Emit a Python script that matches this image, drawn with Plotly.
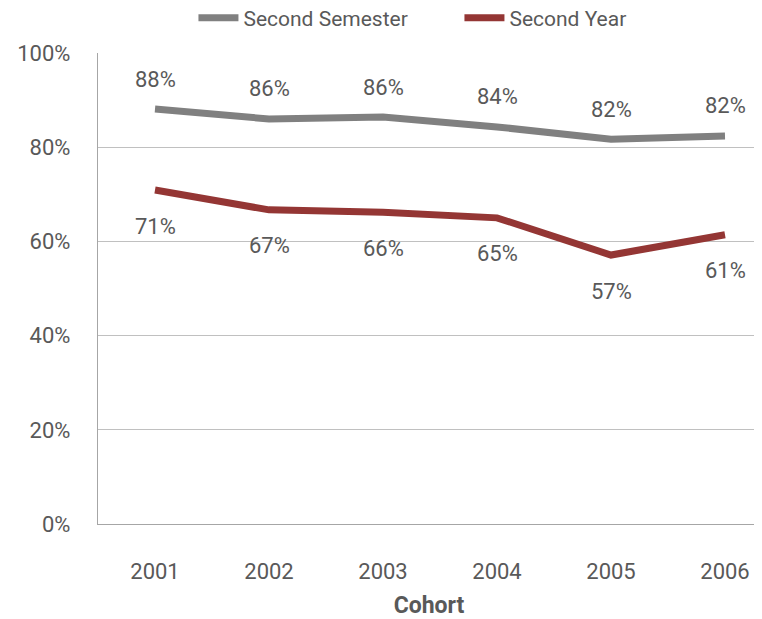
import plotly.graph_objects as go

cohorts = ["2001", "2002", "2003", "2004", "2005", "2006"]
second_semester = [0.881, 0.860, 0.864, 0.843, 0.817, 0.824]
second_year = [0.709, 0.667, 0.662, 0.650, 0.571, 0.614]

FONT = "Roboto, Liberation Sans, sans-serif"
TXT = "#595959"
GRAY = "#808080"
RED = "#943634"

fig = go.Figure()
fig.add_trace(go.Scatter(x=cohorts, y=second_semester, mode="lines", name="Second Semester",
                         line=dict(color=GRAY, width=7)))
fig.add_trace(go.Scatter(x=cohorts, y=second_year, mode="lines", name="Second Year",
                         line=dict(color=RED, width=7)))

for i, v in enumerate(second_semester):
    fig.add_annotation(x=i, y=v, xref="x", yref="y", text=f"{round(v*100):.0f}%",
                       showarrow=False, yshift=30,
                       font=dict(family=FONT, size=22, color=TXT))
for i, v in enumerate(second_year):
    fig.add_annotation(x=i, y=v, xref="x", yref="y", text=f"{round(v*100):.0f}%",
                       showarrow=False, yshift=-36,
                       font=dict(family=FONT, size=22, color=TXT))

fig.update_layout(
    width=754, height=611,
    margin=dict(l=90, r=2, t=45, b=95, autoexpand=False),
    plot_bgcolor="white", paper_bgcolor="white",
    font=dict(family=FONT, size=22, color=TXT),
    showlegend=True,
    legend=dict(orientation="h", x=0.546, xanchor="center", y=1.074, yanchor="middle",
                font=dict(size=21, color=TXT), itemwidth=40, entrywidth=211),
    xaxis=dict(type="category", range=[-0.5, 5.307], showgrid=False, showline=True,
               linecolor="#a6a6a6", linewidth=1.3,
               ticks="", ticklabelstandoff=27, zeroline=False,
               title=dict(text="<b>Cohort</b>", font=dict(size=23, color=TXT), standoff=16)),
    yaxis=dict(range=[0, 1], dtick=0.2, tickformat=".0%", showgrid=True, gridcolor="#c0c0c0",
               gridwidth=1.3, showline=True, linecolor="#a6a6a6", linewidth=1.3, zeroline=False,
               ticks="", ticklabelstandoff=22),
)

fig.write_html("out.html")
